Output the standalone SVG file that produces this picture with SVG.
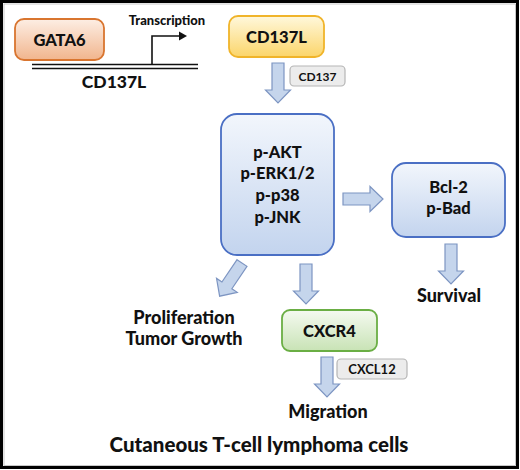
<svg xmlns="http://www.w3.org/2000/svg" width="520" height="470" viewBox="0 0 520 470">
<defs>
<linearGradient id="gOr" x1="0" y1="0" x2="0" y2="1"><stop offset="0" stop-color="#fdeee4"/><stop offset="1" stop-color="#f1b58d"/></linearGradient>
<linearGradient id="gYe" x1="0" y1="0" x2="0" y2="1"><stop offset="0" stop-color="#fff8dc"/><stop offset="1" stop-color="#fbd56a"/></linearGradient>
<linearGradient id="gBl" x1="0" y1="0" x2="0" y2="1"><stop offset="0" stop-color="#f2f6fc"/><stop offset="1" stop-color="#c3d4ee"/></linearGradient>
<linearGradient id="gGr" x1="0" y1="0" x2="0" y2="1"><stop offset="0" stop-color="#f5faf1"/><stop offset="1" stop-color="#c8e3b5"/></linearGradient>
<path id="darrow" d="M-6,0 H6 V27 H12.5 L0,40 L-12.5,27 H-6 Z"/>
</defs>
<style>
text{font-family:Lato,"Open Sans","Liberation Sans",sans-serif;font-weight:900;fill:#111;text-anchor:middle}
.big{font-size:16.5px}
.lbl{font-size:18px}
.tag{font-size:12px;font-weight:700}
.arr{fill:#c5d5ec;stroke:#7d95c2;stroke-width:1.2}
.tagbox{fill:#ececec;stroke:#b5b5b5;stroke-width:1.2}
</style>
<rect x="0" y="0" width="520" height="470" fill="#fff"/>
<rect x="1.5" y="1.5" width="516" height="466" fill="none" stroke="#000" stroke-width="3"/>
<rect x="4" y="4" width="511.5" height="461.5" fill="none" stroke="#bbb" stroke-width="0.8"/>

<g id="gene">
<line x1="32" y1="64.5" x2="198" y2="64.5" stroke="#111" stroke-width="1.6"/>
<line x1="32" y1="68.5" x2="198" y2="68.5" stroke="#111" stroke-width="1.6"/>
<polyline points="152,64 152,36 180,36" fill="none" stroke="#111" stroke-width="1.6"/>
<polygon points="179,31.5 187,36 179,40.5" fill="#111"/>
<text x="167" y="25" style="font-size:13px">Transcription</text>
<text x="114" y="88" style="font-size:17.5px">CD137L</text>
</g>

<g id="gata6">
<rect x="15" y="19" width="89" height="41" rx="9" fill="url(#gOr)" stroke="#d9752f" stroke-width="1.8"/>
<text x="59.5" y="46" class="big">GATA6</text>
</g>

<g id="cd137l">
<rect x="229" y="16" width="95" height="41" rx="9" fill="url(#gYe)" stroke="#f0b42a" stroke-width="1.8"/>
<text x="276.5" y="43" class="big">CD137L</text>
</g>

<g id="kinases">
<rect x="221" y="114" width="113" height="141" rx="16" fill="url(#gBl)" stroke="#4a6fc4" stroke-width="1.8"/>
<text x="277.5" y="158" class="big">p-AKT</text>
<text x="277.5" y="179" class="big">p-ERK1/2</text>
<text x="277.5" y="201" class="big">p-p38</text>
<text x="277.5" y="223" class="big">p-JNK</text>
</g>

<g id="bcl2">
<rect x="392" y="163" width="113" height="74" rx="14" fill="url(#gBl)" stroke="#4a6fc4" stroke-width="1.8"/>
<text x="448.5" y="193" class="big">Bcl-2</text>
<text x="448.5" y="214" class="big">p-Bad</text>
</g>

<g id="cxcr4">
<rect x="282" y="310" width="95" height="41" rx="8" fill="url(#gGr)" stroke="#6aae44" stroke-width="1.8"/>
<text x="329.5" y="337" class="big">CXCR4</text>
</g>

<g id="survival"><text x="449" y="302" class="lbl">Survival</text></g>
<g id="proliferation">
<text x="184" y="324" class="lbl">Proliferation</text>
<text x="184" y="345" class="lbl">Tumor Growth</text>
</g>
<g id="migration"><text x="328" y="418" class="lbl">Migration</text></g>
<g id="cell"><text x="259" y="452" style="font-size:20.5px">Cutaneous T-cell lymphoma cells</text></g>

<g id="connectors">
<use href="#darrow" class="arr" transform="translate(278,63)"/>
<use href="#darrow" class="arr" transform="translate(306,264)"/>
<use href="#darrow" class="arr" transform="translate(451,244)"/>
<use href="#darrow" class="arr" transform="translate(327,357)"/>
<use href="#darrow" class="arr" transform="translate(242,263) rotate(34)"/>
<use href="#darrow" class="arr" transform="translate(343,199) rotate(-90)"/>
<g id="tag-cd137">
<rect x="290" y="66" width="55" height="20" rx="4" class="tagbox"/>
<text x="317.5" y="80.5" class="tag">CD137</text>
</g>
<g id="tag-cxcl12">
<rect x="337" y="359" width="70" height="20" rx="4" class="tagbox"/>
<text x="372" y="373.5" style="font-size:13px;font-weight:700">CXCL12</text>
</g>
</g>
</svg>
